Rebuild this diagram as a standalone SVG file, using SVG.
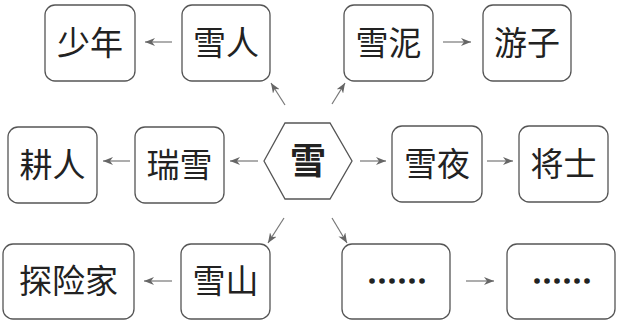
<svg xmlns="http://www.w3.org/2000/svg" width="617" height="324" viewBox="0 0 617 324">
<defs>
<marker id="ah" viewBox="0 0 10 8" refX="10" refY="4" markerWidth="10" markerHeight="8" markerUnits="userSpaceOnUse" orient="auto">
<path d="M0,0 L10,4 L0,8 L3,4 Z" fill="#666"/>
</marker>
<style>
.box{fill:#fff;stroke:#555;stroke-width:1.3}
.t{font-family:"Noto Sans CJK SC","Noto Sans CJK JP",sans-serif;font-size:33px;fill:#222;text-anchor:middle}
.c{font-family:"Noto Sans CJK SC","Noto Sans CJK JP",sans-serif;font-size:36px;font-weight:bold;fill:#222;text-anchor:middle}
.d{font-family:"Noto Sans CJK SC","Noto Sans CJK JP",sans-serif;font-size:30px;fill:#222;stroke:#222;stroke-width:1.6;text-anchor:middle}
.e{stroke:#777;stroke-width:1.2;fill:none;marker-end:url(#ah)}
</style>
</defs>
<rect width="617" height="324" fill="#fff"/>
<g id="connectors">
<line class="e" x1="172" y1="42" x2="145" y2="42"/>
<line class="e" x1="285" y1="105" x2="271" y2="83"/>
<line class="e" x1="332" y1="104" x2="345" y2="83"/>
<line class="e" x1="443" y1="42" x2="471" y2="42"/>
<line class="e" x1="258" y1="161" x2="230" y2="161"/>
<line class="e" x1="130" y1="161" x2="103" y2="161"/>
<line class="e" x1="360" y1="161" x2="386" y2="161"/>
<line class="e" x1="487" y1="161" x2="513" y2="161"/>
<line class="e" x1="284" y1="218" x2="268" y2="243"/>
<line class="e" x1="172" y1="281" x2="144" y2="281"/>
<line class="e" x1="332" y1="218" x2="347" y2="243"/>
<line class="e" x1="466" y1="281" x2="494" y2="281"/>
</g>
<g id="n-snow">
<polygon class="box" points="264,161 285,123 330,123 352,161 330,199 285,199"/>
<text class="c" x="308" y="174">雪</text>
</g>
<g id="n-shaonian"><rect class="box" x="45" y="5" width="90" height="76" rx="10"/><text class="t" x="90" y="55">少年</text></g>
<g id="n-xueren"><rect class="box" x="182" y="5" width="88" height="76" rx="10"/><text class="t" x="226" y="55">雪人</text></g>
<g id="n-xueni"><rect class="box" x="344" y="5" width="89" height="76" rx="10"/><text class="t" x="388.5" y="55">雪泥</text></g>
<g id="n-youzi"><rect class="box" x="483" y="5" width="88" height="76" rx="10"/><text class="t" x="527" y="55">游子</text></g>
<g id="n-gengren"><rect class="box" x="8" y="127" width="89" height="76" rx="10"/><text class="t" x="52.5" y="177">耕人</text></g>
<g id="n-ruixue"><rect class="box" x="135" y="127" width="89" height="76" rx="10"/><text class="t" x="179.5" y="177">瑞雪</text></g>
<g id="n-xueye"><rect class="box" x="392" y="126" width="90" height="76" rx="10"/><text class="t" x="437" y="176">雪夜</text></g>
<g id="n-jiangshi"><rect class="box" x="519" y="126" width="89" height="76" rx="10"/><text class="t" x="563.5" y="176">将士</text></g>
<g id="n-tanxianjia"><rect class="box" x="3" y="244" width="131" height="75" rx="10"/><text class="t" x="68.5" y="293">探险家</text></g>
<g id="n-xueshan"><rect class="box" x="181" y="244" width="89" height="75" rx="10"/><text class="t" x="225.5" y="293">雪山</text></g>
<g id="n-dots1"><rect class="box" x="342" y="244" width="108" height="75" rx="10"/><text class="d" x="397" y="292">……</text></g>
<g id="n-dots2"><rect class="box" x="507" y="244" width="108" height="75" rx="10"/><text class="d" x="562" y="292">……</text></g>
</svg>
